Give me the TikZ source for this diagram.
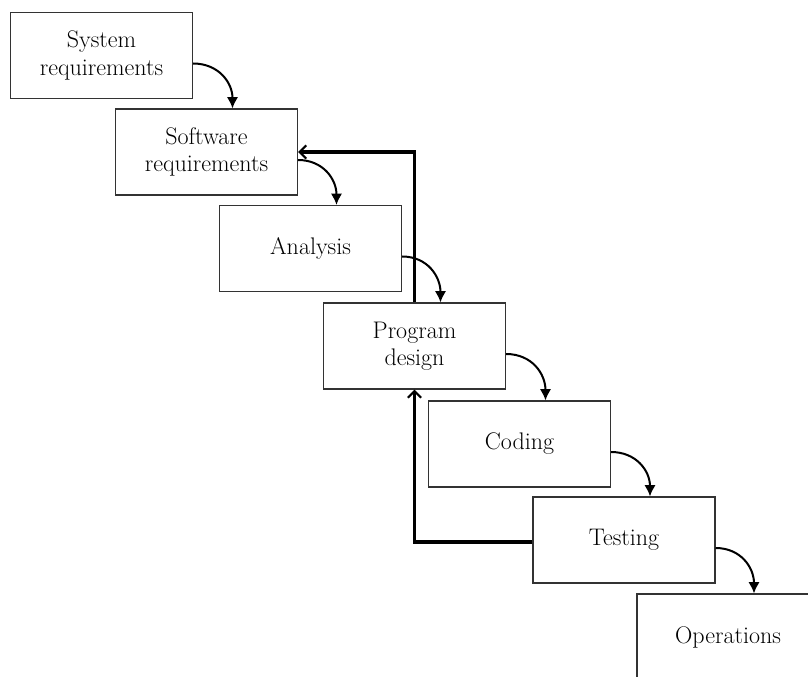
\documentclass[tikz,border=0pt]{standalone}
\usetikzlibrary{arrows.meta,calc}
\begin{document}
\begin{tikzpicture}[x=0.75pt,y=-0.75pt,
  stage/.style={draw=black!80,line width=0.8pt,fill=white,minimum width=136.5pt,minimum height=64.5pt,
    align=center,inner sep=0pt,font=\fontsize{18}{20.5}\selectfont},
  flow/.style={line width=1.5pt,-{Latex[length=8.5pt,width=8.5pt]}},
  fb/.style={line width=2.4pt,-{Straight Barb[length=5pt,width=10pt,line width=1.6pt]}}]
\clip (0,0) rectangle (808,677);
\useasboundingbox (0,0) rectangle (808,677);
\node[stage] (b1) at (101.5,55.5) {System\\requirements};
\node[stage] (b2) at (206.5,152) {Software\\requirements};
\node[stage] (b3) at (310.5,248.5) {Analysis};
\node[stage] (b4) at (414.5,346) {Program\\design};
\node[stage] (b5) at (519.5,444) {Coding};
\node[stage] (b6) at (624,540) {Testing};
\node[stage] (b7) at (728,637) {Operations};
\foreach \a/\b in {b1/b2,b2/b3,b3/b4,b4/b5,b5/b6,b6/b7}{
  \draw[flow] ($(\a.east)+(0,8)$) to[out=0,in=90,looseness=1.1] ($(\b.north)+(26,0)$);
}
\draw[fb] (b4.north) |- (b2.east);
\draw[fb] ($(b6.west)+(0,2)$) -| (b4.south);
\end{tikzpicture}
\end{document}
